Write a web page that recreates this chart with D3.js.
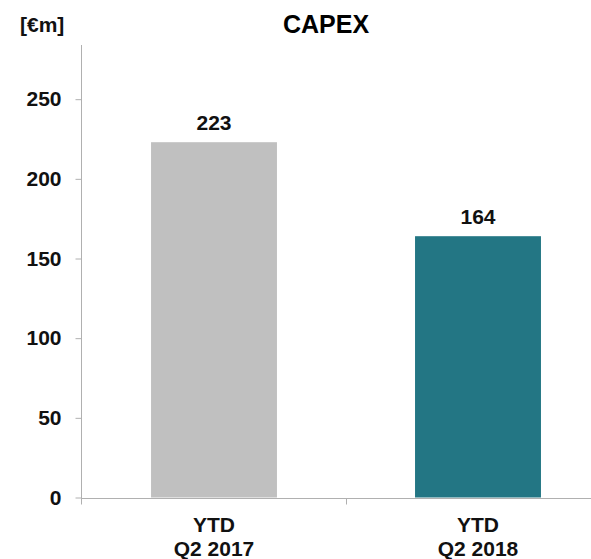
<!DOCTYPE html>
<html>
<head>
<meta charset="utf-8">
<script src="https://cdn.jsdelivr.net/npm/d3@7"></script>
<style>
  html, body { margin: 0; padding: 0; background: #fff; }
  svg { display: block; font-family: "Liberation Sans", Arial, sans-serif; }
</style>
</head>
<body>
<svg id="chart" width="591" height="559"></svg>
<script>
// CAPEX by half-year, in € million
const categories = [["YTD", "Q2 2017"], ["YTD", "Q2 2018"]];
const values = [223, 164];
const barColors = ["#c0c0c0", "#237684"];
const yTicks = [0, 50, 100, 150, 200, 250];

const svg = d3.select("#chart");

const x = d3.scaleBand()
  .domain(d3.range(categories.length))
  .range([82, 610])
  .paddingInner(0.523)
  .paddingOuter(0.2615);

const y = d3.scaleLinear()
  .domain([0, 284])
  .range([497.5, 45]);

// Y axis
const yAxis = svg.append("g")
  .attr("transform", "translate(81.5,0)")
  .call(d3.axisLeft(y).tickValues(yTicks).tickSize(6).tickPadding(14).tickSizeOuter(0));
yAxis.select(".domain").attr("stroke", "#b0b0b0").attr("d", `M0,${y.range()[1]}V${y(0) + 7}`);
yAxis.selectAll(".tick line").attr("stroke", "#b0b0b0");
yAxis.selectAll(".tick text")
  .attr("font-size", 21).attr("font-weight", "bold").attr("fill", "#111")
  .attr("font-family", "'Liberation Sans', Arial, sans-serif");

// X axis baseline with a divider tick between the categories
const xBase = svg.append("g").attr("transform", `translate(0,${Math.round(y(0)) + 0.5})`);
xBase.append("line").attr("x1", 81).attr("x2", 591).attr("stroke", "#b0b0b0");
xBase.append("line")
  .attr("x1", Math.round(x(1) - x.step() * x.paddingInner() / 2) + 0.5)
  .attr("x2", Math.round(x(1) - x.step() * x.paddingInner() / 2) + 0.5)
  .attr("y1", 0).attr("y2", 6).attr("stroke", "#b0b0b0");

// Bars
svg.append("g").selectAll("rect")
  .data(values)
  .join("rect")
  .attr("x", (d, i) => x(i))
  .attr("width", x.bandwidth())
  .attr("y", d => y(d))
  .attr("height", d => y(0) - y(d))
  .attr("fill", (d, i) => barColors[i]);

// Value labels
svg.append("g").selectAll("text")
  .data(values)
  .join("text")
  .attr("x", (d, i) => x(i) + x.bandwidth() / 2)
  .attr("y", d => y(d) - 12)
  .attr("text-anchor", "middle")
  .attr("font-size", 21).attr("font-weight", "bold").attr("fill", "#111")
  .text(d => d);

// Category labels (two lines)
const cat = svg.append("g").selectAll("text")
  .data(categories)
  .join("text")
  .attr("text-anchor", "middle")
  .attr("font-size", 21).attr("font-weight", "bold").attr("fill", "#111");
cat.each(function(lines, i) {
  const t = d3.select(this);
  lines.forEach((l, j) => {
    t.append("tspan")
      .attr("x", x(i) + x.bandwidth() / 2)
      .attr("y", 532 + j * 24)
      .text(l);
  });
});

// Unit and title
svg.append("text").attr("x", 20).attr("y", 32)
  .attr("font-size", 21).attr("font-weight", "bold").attr("fill", "#111")
  .text("[€m]");
svg.append("text").attr("x", 326).attr("y", 33)
  .attr("text-anchor", "middle")
  .attr("font-size", 25).attr("font-weight", "bold").attr("fill", "#000")
  .text("CAPEX");
</script>
</body>
</html>
